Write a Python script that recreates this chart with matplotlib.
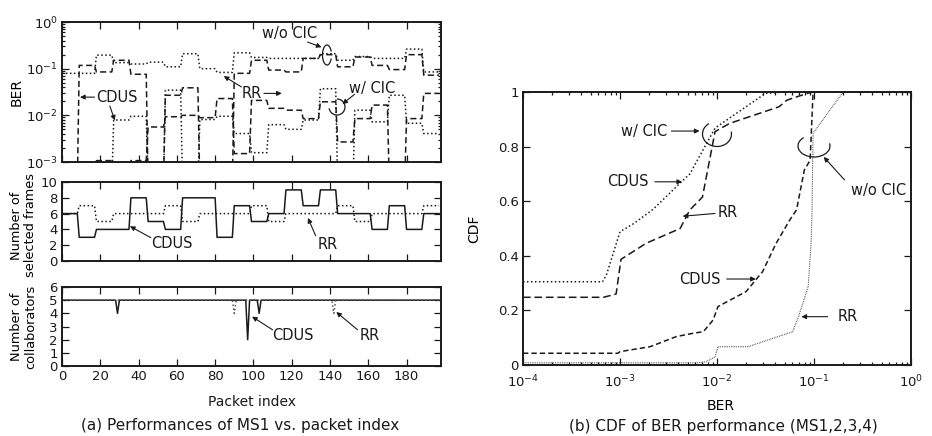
import numpy as np
import matplotlib
matplotlib.use("Agg")
import matplotlib.pyplot as plt
from matplotlib.patches import Arc
from matplotlib.ticker import LogLocator, NullFormatter, FixedLocator

plt.rcParams['font.family'] = ['DejaVu Sans']
plt.rcParams['mathtext.fontset'] = 'dejavusans'

# ---------------- data ----------------
BLOCK = 9                      # packets per block
N_PACKETS = 198
packet_index = np.arange(N_PACKETS)

# (a) top: log10(BER) per block of 9 packets
ber_upper_dotted = [-1.10, -1.10, -0.71, -0.87, -0.90, -0.86, -0.96, -0.68, -1.00, -1.08, -0.66,
                    -0.76, -0.78, -0.78, -0.78, -0.68, -0.82, -0.74, -0.78, -0.78, -0.58, -1.07]
ber_upper_dashed = [-3.5, -0.93, -1.07, -0.82, -1.12, -3.5, -1.57, -1.41, -3.5, -3.5, -1.10,
                    -0.82, -1.03, -1.07, -0.78, -0.70, -0.96, -0.75, -0.93, -1.02, -0.70, -1.14]
ber_lower_dashed = [-3.5, -3.5, -2.97, -3.5, -2.97, -2.25, -2.03, -2.00, -2.05, -1.64, -2.82,
                    -1.68, -1.85, -1.89, -2.07, -1.71, -2.57, -2.07, -1.78, -3.5, -2.07, -1.53]
ber_lower_dotted = [-3.0, -3.5, -3.5, -2.10, -2.02, -3.5, -1.46, -3.5, -2.09, -2.02, -2.39,
                    -2.80, -2.20, -2.30, -2.10, -1.43, -3.5, -1.89, -2.14, -1.57, -2.17, -2.39]

# (a) middle: number of selected frames per block
frames_cdus = [6, 3, 4, 4, 8, 5, 4, 8, 8, 3, 7, 5, 6, 9, 7, 9, 6, 6, 4, 7, 4, 6]
frames_rr = [6, 7, 5, 6, 6, 6, 7, 5, 6, 6, 6, 7, 5, 6, 6, 6, 7, 5, 6, 6, 6, 7]

# (a) bottom: number of collaborators (5 except at a few packets)
collab_base = 5
collab_cdus_dip_packets = [29, 97, 103]
collab_cdus_dip_values = [4, 2, 4]
collab_rr_dip_packets = [90, 142]
collab_rr_dip_values = [4, 4]

# (b) CDF curves: log10(BER), CDF
cdf_cdus_wcic_logber = [-4.0, -3.18, -3.14, -3.0, -2.85, -2.66, -2.37, -2.28, -2.02, -1.50, -1.30, 0.0]
cdf_cdus_wcic = [0.305, 0.305, 0.33, 0.488, 0.52, 0.57, 0.67, 0.70, 0.868, 0.995, 1.0, 1.0]

cdf_rr_wcic_logber = [-4.0, -3.17, -3.04, -2.99, -2.73, -2.38, -2.28, -2.15, -2.02, -1.87, -1.36,
                      -1.28, -1.12, -1.06, -1.0, 0.0]
cdf_rr_wcic = [0.248, 0.248, 0.26, 0.387, 0.446, 0.50, 0.568, 0.615, 0.855, 0.885, 0.946,
               0.97, 0.989, 0.996, 1.0, 1.0]

cdf_cdus_wocic_logber = [-4.0, -3.02, -3.0, -2.69, -2.42, -2.25, -2.14, -2.04, -1.99, -1.70, -1.53,
                         -1.39, -1.25, -1.18, -1.10, -1.04, -1.01, -1.0, 0.0]
cdf_cdus_wocic = [0.043, 0.043, 0.049, 0.067, 0.104, 0.116, 0.122, 0.165, 0.214, 0.269, 0.342,
                  0.446, 0.531, 0.568, 0.714, 0.75, 0.995, 1.0, 1.0]

cdf_rr_wocic_logber = [-4.0, -2.2, -2.11, -2.02, -1.99, -1.68, -1.22, -1.16, -1.06, -1.03, -1.02,
                       -1.01, -0.70, 0.0]
cdf_rr_wocic = [0.008, 0.008, 0.012, 0.03, 0.067, 0.067, 0.122, 0.177, 0.287, 0.446, 0.568,
                0.849, 1.0, 1.0]

# ---------------- styles ----------------
K = '#1a1a1a'
DASH = (0, (4.0, 2.2))
DOT = (0, (1.0, 1.6))
FINEDOT = (0, (0.6, 1.0))
ARROW = dict(arrowstyle='-|>', lw=0.8, color=K, mutation_scale=7, shrinkA=0, shrinkB=0)
FS_TICK = 9.5
FS_LAB = 10
FS_SIDE = 9.3
FS_ANN = 10.5
FS_CAP = 11


def expand(blocks):
    return np.repeat(np.asarray(blocks, dtype=float), BLOCK)[:N_PACKETS]


def style_axes(ax):
    for s in ax.spines.values():
        s.set_linewidth(1.4)
        s.set_color(K)
    ax.tick_params(which='both', direction='in', top=True, right=True, colors=K,
                   labelsize=FS_TICK, width=0.9, pad=3)
    ax.tick_params(which='major', length=5)
    ax.tick_params(which='minor', length=2.5)


W, H = 932, 436
fig = plt.figure(figsize=(W / 100, H / 100), dpi=100)


def rect(l, t, r, b):
    return [l / W, 1 - b / H, (r - l) / W, (b - t) / H]


def fig_arc(cx, cy, w, h, t1, t2):
    fig.add_artist(Arc((cx / W, 1 - cy / H), w / W, h / H, theta1=t1, theta2=t2,
                       transform=fig.transFigure, lw=0.9, color=K))


ax1 = fig.add_axes(rect(62, 22, 441, 162))
ax2 = fig.add_axes(rect(62, 182, 441, 261))
ax3 = fig.add_axes(rect(62, 287, 441, 366))
ax4 = fig.add_axes(rect(523, 92, 911, 365))

xt = list(range(0, 181, 20))

# ---- top panel: BER ----
ax1.plot(packet_index, 10 ** expand(ber_upper_dotted), ls=DOT, color=K, lw=1.1)
ax1.plot(packet_index, 10 ** expand(ber_upper_dashed), ls=DASH, color=K, lw=1.1)
ax1.plot(packet_index, 10 ** expand(ber_lower_dashed), ls=DASH, color=K, lw=1.1)
ax1.plot(packet_index, 10 ** expand(ber_lower_dotted), ls=DOT, color=K, lw=1.1)
ax1.set_yscale('log')
ax1.set_ylim(1e-3, 1)
ax1.set_xlim(0, 198)
ax1.xaxis.set_major_locator(FixedLocator(xt))
ax1.yaxis.set_major_locator(LogLocator(base=10, numticks=10))
ax1.yaxis.set_minor_locator(LogLocator(base=10, subs=np.arange(2, 10), numticks=10))
ax1.yaxis.set_minor_formatter(NullFormatter())
style_axes(ax1)
ax1.tick_params(labelbottom=False)
ax1.set_ylabel('BER', fontsize=FS_LAB)
ax1.yaxis.set_label_coords(-0.10, 0.5)

ax1.text(28.5, 10 ** -1.62, 'CDUS', fontsize=FS_ANN, ha='center', va='center', color=K)
ax1.annotate('', xy=(9.4, 10 ** -1.61), xytext=(17.0, 10 ** -1.61), arrowprops=ARROW)
ax1.annotate('', xy=(27.6, 10 ** -2.11), xytext=(25.0, 10 ** -1.80), arrowprops=ARROW)
ax1.text(99, 10 ** -1.53, 'RR', fontsize=FS_ANN, ha='center', va='center', color=K)
ax1.annotate('', xy=(114.8, 10 ** -1.53), xytext=(105.5, 10 ** -1.53), arrowprops=ARROW)
ax1.annotate('', xy=(84.5, 10 ** -1.16), xytext=(93.7, 10 ** -1.39), arrowprops=ARROW)
ax1.text(118.9, 10 ** -0.25, 'w/o CIC', fontsize=FS_ANN, ha='center', va='center', color=K)
ax1.annotate('', xy=(135.6, 10 ** -0.54), xytext=(128.3, 10 ** -0.43), arrowprops=ARROW)
ax1.text(162.2, 10 ** -1.42, 'w/ CIC', fontsize=FS_ANN, ha='center', va='center', color=K)
ax1.annotate('', xy=(146.5, 10 ** -1.76), xytext=(152.8, 10 ** -1.55), arrowprops=ARROW)
fig_arc(327, 55, 9, 20, 60, 300)
fig_arc(337, 107, 16, 16, 200, 450)

# ---- middle panel: selected frames ----
ax2.plot(packet_index, expand(frames_rr), ls=DOT, color=K, lw=1.1)
ax2.plot(packet_index, expand(frames_cdus), ls='-', color=K, lw=1.1)
ax2.set_xlim(0, 198)
ax2.set_ylim(0, 10)
ax2.xaxis.set_major_locator(FixedLocator(xt))
ax2.yaxis.set_major_locator(FixedLocator([0, 2, 4, 6, 8, 10]))
style_axes(ax2)
ax2.tick_params(labelbottom=False)
ax2.set_ylabel('Number of\nselected frames', fontsize=FS_SIDE, linespacing=1.05)
ax2.yaxis.set_label_coords(-0.066, 0.45)
ax2.text(57.2, 2.25, 'CDUS', fontsize=FS_ANN, ha='center', va='center', color=K)
ax2.annotate('', xy=(35.5, 4.4), xytext=(46.4, 2.95), arrowprops=ARROW)
ax2.text(138.9, 2.1, 'RR', fontsize=FS_ANN, ha='center', va='center', color=K)
ax2.annotate('', xy=(128.5, 5.45), xytext=(132.5, 3.2), arrowprops=ARROW)

# ---- bottom panel: collaborators ----
collab_cdus = np.full(N_PACKETS, collab_base, dtype=float)
collab_cdus[collab_cdus_dip_packets] = collab_cdus_dip_values
collab_rr = np.full(N_PACKETS, collab_base, dtype=float)
collab_rr[collab_rr_dip_packets] = collab_rr_dip_values
ax3.plot(packet_index, collab_cdus, ls='-', color=K, lw=1.1)
ax3.plot(packet_index, collab_rr, ls=DOT, color='#555555', lw=1.1)
ax3.set_xlim(0, 198)
ax3.set_ylim(0, 6)
ax3.xaxis.set_major_locator(FixedLocator(xt))
ax3.yaxis.set_major_locator(FixedLocator([0, 1, 2, 3, 4, 5, 6]))
style_axes(ax3)
ax3.set_ylabel('Number of\ncollaborators', fontsize=FS_SIDE, linespacing=1.05)
ax3.yaxis.set_label_coords(-0.066, 0.5)
ax3.text(120.7, 2.3, 'CDUS', fontsize=FS_ANN, ha='center', va='center', color=K)
ax3.annotate('', xy=(99.3, 3.75), xytext=(110, 2.75), arrowprops=ARROW)
ax3.text(160.7, 2.3, 'RR', fontsize=FS_ANN, ha='center', va='center', color=K)
ax3.annotate('', xy=(143.3, 4.1), xytext=(154.4, 2.75), arrowprops=ARROW)

fig.text(251.5 / W, 1 - 402 / H, 'Packet index', fontsize=FS_LAB, ha='center', va='center', color=K)
fig.text(240 / W, 1 - 425 / H, '(a) Performances of MS1 vs. packet index', fontsize=FS_CAP,
         ha='center', va='center', color=K)

# ---- right panel: CDF ----
ax4.plot(10 ** np.asarray(cdf_cdus_wcic_logber), cdf_cdus_wcic, ls=DOT, color=K, lw=1.1)
ax4.plot(10 ** np.asarray(cdf_rr_wcic_logber), cdf_rr_wcic, ls=(0, (5, 2.5)), color=K, lw=1.1)
ax4.plot(10 ** np.asarray(cdf_cdus_wocic_logber), cdf_cdus_wocic, ls=(0, (3.5, 2.0)), color=K, lw=1.1)
ax4.plot(10 ** np.asarray(cdf_rr_wocic_logber), cdf_rr_wocic, ls=FINEDOT, color=K, lw=0.8)
ax4.set_xscale('log')
ax4.set_xlim(1e-4, 1)
ax4.set_ylim(0, 1)
ax4.xaxis.set_major_locator(LogLocator(base=10, numticks=10))
ax4.xaxis.set_minor_locator(LogLocator(base=10, subs=np.arange(2, 10), numticks=10))
ax4.xaxis.set_minor_formatter(NullFormatter())
ax4.yaxis.set_major_locator(FixedLocator([0, 0.2, 0.4, 0.6, 0.8, 1.0]))
ax4.set_yticklabels(['0', '0.2', '0.4', '0.6', '0.8', '1'])
style_axes(ax4)
ax4.tick_params(axis='x', pad=6)
ax4.set_ylabel('CDF', fontsize=FS_LAB)
ax4.yaxis.set_label_coords(-0.108, 0.5)
ax4.set_xlabel('BER', fontsize=FS_LAB)
ax4.xaxis.set_label_coords(0.51, -0.125)

ax4.text(10 ** -2.756, 0.854, 'w/ CIC', fontsize=FS_ANN, ha='center', va='center', color=K)
ax4.annotate('', xy=(10 ** -2.18, 0.857), xytext=(10 ** -2.47, 0.857), arrowprops=ARROW)
ax4.text(10 ** -2.92, 0.671, 'CDUS', fontsize=FS_ANN, ha='center', va='center', color=K)
ax4.annotate('', xy=(10 ** -2.36, 0.671), xytext=(10 ** -2.64, 0.671), arrowprops=ARROW)
ax4.text(10 ** -1.89, 0.557, 'RR', fontsize=FS_ANN, ha='center', va='center', color=K)
ax4.annotate('', xy=(10 ** -2.354, 0.545), xytext=(10 ** -2.02, 0.555), arrowprops=ARROW)
ax4.text(10 ** -0.334, 0.641, 'w/o CIC', fontsize=FS_ANN, ha='center', va='center', color=K)
ax4.annotate('', xy=(10 ** -0.90, 0.762), xytext=(10 ** -0.685, 0.678), arrowprops=ARROW)
ax4.text(10 ** -2.18, 0.313, 'CDUS', fontsize=FS_ANN, ha='center', va='center', color=K)
ax4.annotate('', xy=(10 ** -1.60, 0.315), xytext=(10 ** -1.90, 0.315), arrowprops=ARROW)
ax4.text(10 ** -0.65, 0.177, 'RR', fontsize=FS_ANN, ha='center', va='center', color=K)
ax4.annotate('', xy=(10 ** -1.13, 0.177), xytext=(10 ** -0.86, 0.177), arrowprops=ARROW)
fig_arc(717, 134, 29, 25, 110, 380)
fig_arc(814, 146, 32, 22, 120, 380)

fig.text(723 / W, 1 - 426.5 / H, '(b) CDF of BER performance (MS1,2,3,4)', fontsize=FS_CAP,
         ha='center', va='center', color=K)

fig.savefig('out.png', dpi=100)
